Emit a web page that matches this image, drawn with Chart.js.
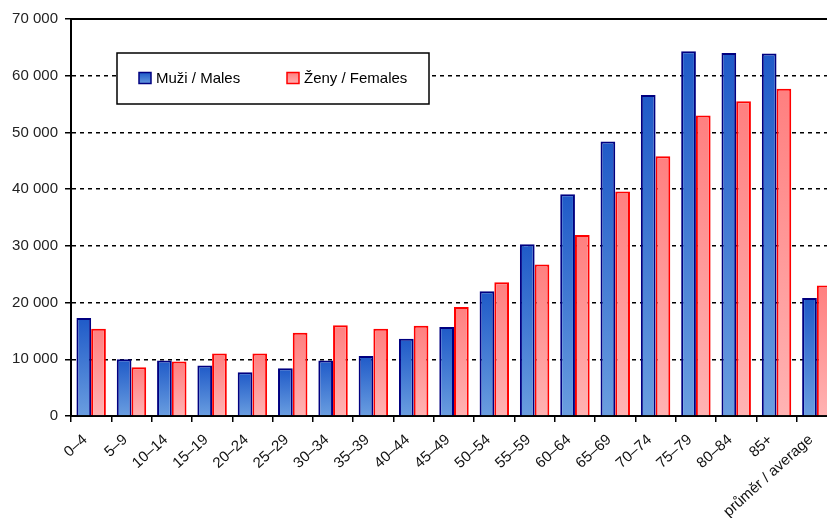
<!DOCTYPE html>
<html>
<head>
<meta charset="utf-8">
<script src="https://cdn.jsdelivr.net/npm/chart.js@4.4.1/dist/chart.umd.min.js"></script>
<style>
  html, body { margin: 0; padding: 0; background: #fff; overflow: hidden; }
  canvas { display: block; }
</style>
</head>
<body>
<canvas id="chart" width="840" height="518"></canvas>
<script>
// age groups and values
const categories = ['0–4', '5–9', '10–14', '15–19', '20–24', '25–29', '30–34', '35–39', '40–44',
  '45–49', '50–54', '55–59', '60–64', '65–69', '70–74', '75–79', '80–84', '85+', 'průměr / average'];
const males = [17300, 10000, 9800, 8900, 7700, 8400, 9800, 10600, 13600,
  15700, 22000, 30300, 39100, 48400, 56600, 64300, 64000, 63900, 20800];
const females = [15400, 8600, 9600, 11000, 11000, 14700, 16000, 15400, 15900,
  19200, 23600, 26700, 31900, 39600, 45800, 53000, 55500, 57700, 23000];
const yMax = 70000;
const yStep = 10000;

const FONT = "'Liberation Sans', Arial, sans-serif";

function fmt(v) {
  return String(v).replace(/\B(?=(\d{3})+(?!\d))/g, ' ');
}

// vertical gradient for each bar, dark at top, light at bottom
function barGradient(top, bottom) {
  return function (ctx) {
    const chart = ctx.chart;
    if (!chart.chartArea || ctx.raw == null) return bottom;
    const y = chart.scales.y;
    const y0 = y.getPixelForValue(ctx.raw);
    const y1 = y.getPixelForValue(0);
    const g = chart.ctx.createLinearGradient(0, y0, 0, y1);
    g.addColorStop(0, top);
    g.addColorStop(1, bottom);
    return g;
  };
}

const frame = {
  id: 'frame',
  afterDatasetsDraw(chart) {
    const c = chart.ctx, a = chart.chartArea;
    c.save();
    // top border of the plot
    c.strokeStyle = '#000';
    c.lineWidth = 2;
    c.beginPath();
    c.moveTo(a.left, a.top);
    c.lineTo(a.right, a.top);
    c.stroke();

    // legend box inside the plot
    const bx = a.left + 46, by = a.top + 34, bw = 312, bh = 51;
    c.fillStyle = '#fff';
    c.fillRect(bx, by, bw, bh);
    c.lineWidth = 1.5;
    c.strokeRect(bx, by, bw, bh);

    const items = [
      { ds: chart.data.datasets[0], x: bx + 22, top: '#1f5ac8', bottom: '#6a9ee0' },
      { ds: chart.data.datasets[1], x: bx + 170, top: '#ff7f7f', bottom: '#ffb3b3' }
    ];
    const my = by + bh / 2;
    items.forEach(it => {
      const g = c.createLinearGradient(0, my - 6, 0, my + 6);
      g.addColorStop(0, it.top);
      g.addColorStop(1, it.bottom);
      c.fillStyle = g;
      c.fillRect(it.x, my - 6, 12, 11);
      c.strokeStyle = it.ds.borderColor;
      c.lineWidth = 1.5;
      c.strokeRect(it.x, my - 6, 12, 11);
      c.fillStyle = '#000';
      c.font = '15px ' + FONT;
      c.textBaseline = 'middle';
      c.textAlign = 'left';
      c.fillText(it.ds.label, it.x + 17, my);
    });
    c.restore();
  }
};

new Chart(document.getElementById('chart'), {
  type: 'bar',
  plugins: [frame],
  data: {
    labels: categories,
    datasets: [
      {
        label: 'Muži / Males',
        data: males,
        backgroundColor: barGradient('#1f5ac8', '#6a9ee0'),
        borderColor: '#000080',
        borderWidth: 2,
        categoryPercentage: 0.73,
        barPercentage: 1.0
      },
      {
        label: 'Ženy / Females',
        data: females,
        backgroundColor: barGradient('#ff7f7f', '#ffb3b3'),
        borderColor: '#ff0000',
        borderWidth: 2,
        categoryPercentage: 0.73,
        barPercentage: 1.0
      }
    ]
  },
  options: {
    responsive: false,
    animation: false,
    layout: { padding: { top: 19, right: 3, left: 0, bottom: 0 } },
    plugins: {
      legend: { display: false },
      tooltip: { enabled: false }
    },
    scales: {
      x: {
        grid: {
          offset: true,
          drawOnChartArea: false,
          tickLength: 6,
          color: '#000',
          lineWidth: 1.5
        },
        border: { color: '#000', width: 2 },
        ticks: {
          color: '#111',
          font: { family: FONT, size: 15 },
          minRotation: 42,
          maxRotation: 42,
          autoSkip: false,
          padding: 9,
          labelOffset: -6
        },
        afterFit: s => { s.height = 102; }
      },
      y: {
        min: 0,
        max: yMax,
        ticks: {
          stepSize: yStep,
          color: '#222',
          font: { family: FONT, size: 15 },
          padding: 7,
          callback: v => fmt(v)
        },
        grid: {
          color: ctx => (ctx.tick && (ctx.tick.value === 0 || ctx.tick.value === yMax)) ? 'rgba(0,0,0,0)' : '#000',
          lineWidth: 1.5,
          tickColor: '#000',
          tickLength: 6
        },
        border: { color: '#000', width: 2, dash: [4, 4] },
        afterFit: s => { s.width = 71; }
      }
    }
  }
});
</script>
</body>
</html>
